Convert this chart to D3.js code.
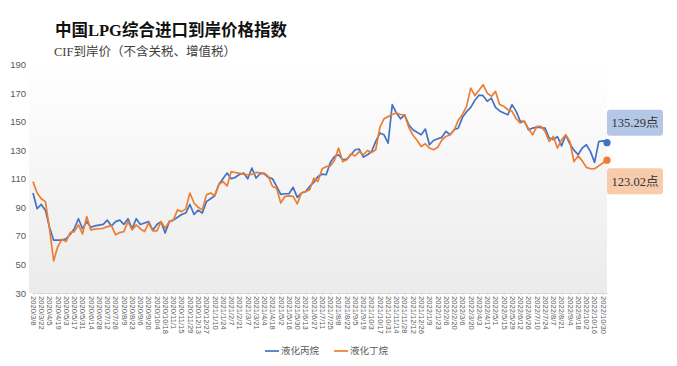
<!DOCTYPE html>
<html><head><meta charset="utf-8">
<script src="https://cdn.jsdelivr.net/npm/d3@7"></script>
<style>body{margin:0;background:#fff}svg{display:block}</style>
</head><body><svg id="c" width="677" height="366"></svg>
<script>
const dates2020 = ["2020/3/8","2020/3/15","2020/3/22","2020/3/29","2020/4/5","2020/4/12","2020/4/19","2020/4/26","2020/5/3","2020/5/10","2020/5/17","2020/5/24","2020/5/31","2020/6/7","2020/6/14","2020/6/21","2020/6/28","2020/7/5","2020/7/12","2020/7/19","2020/7/26","2020/8/2","2020/8/9","2020/8/16","2020/8/23","2020/8/30","2020/9/6","2020/9/13","2020/9/20","2020/9/27","2020/10/4","2020/10/11","2020/10/18","2020/10/25","2020/11/1","2020/11/8","2020/11/15","2020/11/22","2020/11/29","2020/12/6","2020/12/13","2020/12/20","2020/12/27"];
const dates2021 = ["2021/1/3","2021/1/10","2021/1/17","2021/1/24","2021/1/31","2021/2/7","2021/2/14","2021/2/21","2021/2/28","2021/3/7","2021/3/14","2021/3/21","2021/3/28","2021/4/4","2021/4/11","2021/4/18","2021/4/25","2021/5/2","2021/5/9","2021/5/16","2021/5/23","2021/5/30","2021/6/6","2021/6/13","2021/6/20","2021/6/27","2021/7/4","2021/7/11","2021/7/18","2021/7/25","2021/8/1","2021/8/8","2021/8/15","2021/8/22","2021/8/29","2021/9/5","2021/9/12","2021/9/19","2021/9/26","2021/10/3","2021/10/10","2021/10/17","2021/10/24","2021/10/31","2021/11/7","2021/11/14","2021/11/21","2021/11/28","2021/12/5","2021/12/12","2021/12/19","2021/12/26"];
const dates2022 = ["2022/1/2","2022/1/9","2022/1/16","2022/1/23","2022/1/30","2022/2/6","2022/2/13","2022/2/20","2022/2/27","2022/3/6","2022/3/13","2022/3/20","2022/3/27","2022/4/3","2022/4/10","2022/4/17","2022/4/24","2022/5/1","2022/5/8","2022/5/15","2022/5/22","2022/5/29","2022/6/5","2022/6/12","2022/6/19","2022/6/26","2022/7/3","2022/7/10","2022/7/17","2022/7/24","2022/7/31","2022/8/7","2022/8/14","2022/8/21","2022/8/28","2022/9/4","2022/9/11","2022/9/18","2022/9/25","2022/10/2","2022/10/9","2022/10/16","2022/10/23","2022/10/30","2022/11/6"];
const categories = dates2020.concat(dates2021, dates2022);

const propane = [100,89,92,88,76,67,67,67,68,71,
75,82,75,80,76,77,77.5,78,81,77,
80,81,78,82,75,82,78,79,80,74,
78,80,72,80,81,83,85,86,92,85,
88,86,94,96,98,106,110,114,110,111,
113,114,110,117.5,110.5,113.5,113.5,111,110,104.6,
99,99.5,99.5,104,97,100,101,104.6,107.4,111.6,
113.2,112.8,121.4,125.6,126.8,123.3,123.8,126.8,130.3,130.8,
125.2,126.8,129.1,136.2,142,140.8,135,161.9,156,152,
154.8,147.8,144.3,142.5,140.8,144.8,133.8,136.8,138,139,
143.2,140.8,144.3,145.5,153,157,160,165,168.5,168.2,
164.2,166.5,160,157.5,156,154.8,161.9,157.2,150.2,150.2,
144.3,145.5,146.2,145.8,145.5,138.5,137.5,139.5,133,140.5,
134.5,130,126.8,131.5,133.8,129,121.5,136,136.5,135.29];

const butane = [108,100,96,94,75,52.4,62.5,67.6,66,72.3,
73,77.7,71.4,83.5,74.2,74.7,75,75.3,76.5,77.2,
70.7,72.3,73,80,74.2,77.7,75,73,79,73.5,
73.5,80,75.3,80,81.2,88.2,87,88.9,100,93,
90,88.2,98.7,100,98,106,108,105,115,114.4,
113.8,113.2,112.8,113,114.4,114.2,114,111.6,104.6,103.4,
93,97.6,98,97.6,92.4,100,101,102.3,110.4,108,
116.8,118.6,119,123,131.5,122,123.3,127.5,126,129,
126.8,129.8,128.4,130.3,146,152,153.5,155,156,155,
154.5,146,140.5,137,132.6,134.5,131.5,130.3,132,137,
139.6,140.8,144,151,155,160.7,173.5,168.2,172,175.9,
170,167.7,171.2,162,160.7,158.3,157.2,152,149,150.2,
145,140.8,146.7,146.7,143.2,136.1,139.6,131.5,137.3,140.8,
136.1,122,126,122.5,118,117,117,119,121,123.02];

const yTicks = [30,50,70,90,110,130,150,170,190];
const seriesNames = ["液化丙烷","液化丁烷"];
const titleText = "中国LPG综合进口到岸价格指数";
const subtitleText = "CIF到岸价（不含关税、增值税）";
const tickLabels = categories.filter((d,i)=>i%2===0);

const colors = ["#4472c4","#ed7d31"];
const boxFills = ["#b4c7e7","#f8cbad"];
const serif = "'Liberation Serif','Noto Sans CJK SC',serif";
const sans = "'Liberation Sans','Noto Sans CJK SC',sans-serif";

const svg = d3.select("#c");
const x = d3.scalePoint().domain(categories).range([33,607]);
const y = d3.scaleLinear().domain([30,190]).range([293,64.5]);

const defs = svg.append("defs");
const grad = defs.append("linearGradient").attr("id","bg").attr("x1",0).attr("y1",0).attr("x2",0).attr("y2",1);
grad.append("stop").attr("offset","0%").attr("stop-color","#ffffff");
grad.append("stop").attr("offset","100%").attr("stop-color","#ebebeb");
svg.append("rect").attr("x",29).attr("y",y(190)).attr("width",607-29).attr("height",y(30)-y(190)).attr("fill","url(#bg)");

// title
svg.append("text").attr("x",55).attr("y",36).attr("font-family",serif).attr("font-size",16.5).attr("font-weight","bold").attr("fill","#111").text(titleText);
svg.append("text").attr("x",54).attr("y",56).attr("font-family",serif).attr("font-size",12.5).attr("fill","#404040").text(subtitleText);

// y axis
const gy = svg.append("g").attr("transform","translate(29,0)").call(d3.axisLeft(y).tickValues(yTicks).tickSize(0).tickPadding(3));
gy.select(".domain").remove();
gy.selectAll("text").attr("font-family",sans).attr("font-size",9.5).attr("fill","#595959");

// x axis
const gx = svg.append("g").attr("transform","translate(0,293)").call(d3.axisBottom(x).tickValues(tickLabels).tickSize(2).tickSizeOuter(0));
gx.select(".domain").attr("stroke","#d9d9d9");
gx.selectAll(".tick line").attr("stroke","#d0d0d0");
gx.selectAll("text").attr("font-family",sans).attr("font-size",7.6).attr("fill","#595959")
  .attr("transform","rotate(90)").attr("x",3).attr("y",0).attr("dy","0.35em").attr("text-anchor","start");

// lines
const series = [propane, butane];
const line = d3.line().x((d,i)=>x(categories[i])).y(d=>y(d));
series.forEach((s,k)=>{
  svg.append("path").datum(s).attr("d",line).attr("fill","none").attr("stroke",colors[k]).attr("stroke-width",1.7).attr("stroke-linejoin","round");
});

// end labels
const last = categories.length-1;
const offsets = [-20, 21];
series.forEach((s,k)=>{
  const v = s[last];
  const cx = x(categories[last]), cy = y(v);
  const by = cy + offsets[k];
  svg.append("rect").attr("x",cx).attr("y",by-13).attr("width",56).attr("height",26).attr("rx",3).attr("fill",boxFills[k]);
  svg.append("text").attr("x",cx+28).attr("y",by).attr("dy","0.35em").attr("text-anchor","middle").attr("font-family",serif).attr("font-size",12.5).attr("fill","#333").text(v.toFixed(2)+"点");
  svg.append("circle").attr("cx",cx).attr("cy",cy).attr("r",3.6).attr("fill",colors[k]);
});

// legend
const legX = [265, 334];
seriesNames.forEach((n,k)=>{
  svg.append("line").attr("x1",legX[k]).attr("x2",legX[k]+14).attr("y1",351).attr("y2",351).attr("stroke",colors[k]).attr("stroke-width",1.7);
  svg.append("text").attr("x",legX[k]+16).attr("y",351).attr("dy","0.35em").attr("font-family",sans).attr("font-size",9.5).attr("fill","#595959").text(n);
});
</script></body></html>
